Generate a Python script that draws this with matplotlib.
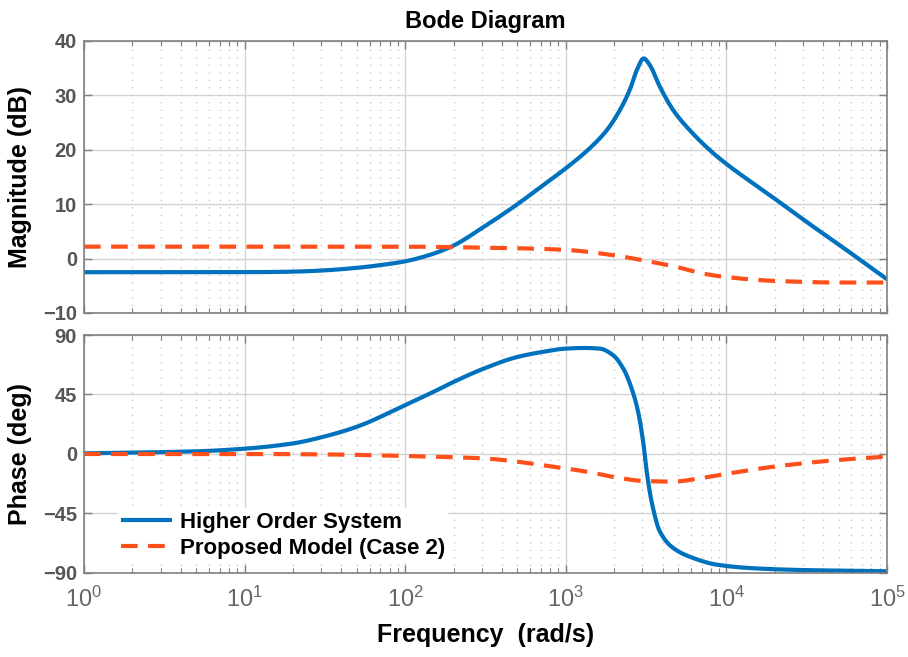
import numpy as np
import matplotlib
matplotlib.use("Agg")
from matplotlib import pyplot as plt
from matplotlib.ticker import LogLocator, NullFormatter, FixedLocator

plt.rcParams['font.family'] = ['Liberation Sans', 'DejaVu Sans']
plt.rcParams['mathtext.fontset'] = 'custom'
plt.rcParams['mathtext.rm'] = 'Liberation Sans'
plt.rcParams['mathtext.it'] = 'Liberation Sans'

# Higher order system (blue), magnitude
hos_w = [1, 5, 10, 20, 30, 50, 70, 100, 150, 200, 300, 500, 700, 1000, 1400,
         1800, 2200, 2500, 2800, 3050, 3330, 3850, 4660, 5910, 8260, 10000,
         20000, 30000, 50000, 100000]
hos_mag = [-2.5, -2.5, -2.5, -2.4, -2.2, -1.7, -1.2, -0.5, 0.9, 2.4, 5.6, 10.0,
           13.2, 16.6, 20.2, 23.6, 27.6, 31.0, 35.0, 36.8, 35.6, 31.6, 27.3,
           23.6, 19.4, 17.4, 11.0, 7.2, 2.6, -3.8]

# Higher order system (blue), phase
hosp_w = [1, 5, 10, 20, 30, 50, 100, 150, 200, 300, 500, 700, 1000, 1300,
          1630, 1970, 2280, 2570, 2820, 3030, 3210, 3420, 3850, 4660, 6210,
          8680, 15000, 30000, 100000]
hos_phase = [0.5, 2.0, 4.0, 8.0, 12.6, 20.6, 37.0, 47.0, 54.5, 64.0, 73.4,
             77.0, 79.7, 80.2, 79.7, 74.7, 64.6, 49.5, 31.9, 9.3, -15.8, -36.0,
             -58.6, -71.1, -78.7, -83.7, -86.5, -87.8, -88.7]

# Proposed model, case 2 (orange dashed)
pm_w = [1, 10, 100, 200, 300, 500, 1000, 2000, 3000, 5000, 7000, 10000,
        20000, 50000, 100000]
pm_mag = [2.2, 2.2, 2.2, 2.1, 2.0, 1.9, 1.6, 0.6, -0.3, -1.6, -2.7, -3.4,
          -4.1, -4.4, -4.4]
pmp_w = [1, 10, 30, 100, 300, 918, 1410, 2070, 3030, 4660, 6820, 10000,
         20000, 50000, 100000]
pm_phase = [0.0, 0.0, -0.3, -1.5, -3.3, -10.3, -13.8, -17.8, -20.4, -20.9,
            -18.4, -15.0, -9.5, -4.5, -2.0]

mag_ticks = [-10, 0, 10, 20, 30, 40]
phase_ticks = [-90, -45, 0, 45, 90]
freq_ticks = [1, 10, 100, 1000, 10000, 100000]
freq_labels = ['$10^{0}$', '$10^{1}$', '$10^{2}$', '$10^{3}$', '$10^{4}$', '$10^{5}$']

BLUE = '#0072BD'
ORANGE = '#FF4F1A'
TICK_GRAY = '#555555'


def pchip(x, y, n=800):
    # monotone cubic through the read points, in log frequency
    x = np.log10(np.asarray(x, float))
    y = np.asarray(y, float)
    h = np.diff(x)
    d = np.diff(y) / h
    m = np.zeros_like(y)
    for i in range(1, len(y) - 1):
        if d[i - 1] * d[i] > 0:
            w1 = 2 * h[i] + h[i - 1]
            w2 = h[i] + 2 * h[i - 1]
            m[i] = (w1 + w2) / (w1 / d[i - 1] + w2 / d[i])
    m[0] = d[0]
    m[-1] = d[-1]
    xs = np.linspace(x[0], x[-1], n)
    k = np.clip(np.searchsorted(x, xs) - 1, 0, len(h) - 1)
    t = (xs - x[k]) / h[k]
    h00 = 2 * t**3 - 3 * t**2 + 1
    h10 = t**3 - 2 * t**2 + t
    h01 = -2 * t**3 + 3 * t**2
    h11 = t**3 - t**2
    ys = h00 * y[k] + h10 * h[k] * m[k] + h01 * y[k + 1] + h11 * h[k] * m[k + 1]
    return 10 ** xs, ys


def style_axes(ax):
    ax.set_xscale('log')
    ax.set_xlim(1, 1e5)
    ax.xaxis.set_major_locator(FixedLocator(freq_ticks))
    ax.xaxis.set_minor_locator(LogLocator(base=10, subs=np.arange(2, 10)))
    ax.xaxis.set_minor_formatter(NullFormatter())
    ax.grid(True, which='major', color='#d4d4d4', lw=1.0, ls='-')
    ax.grid(True, which='minor', axis='x', color='#bdbdbd', lw=0.9, ls=(0, (1, 5)))
    ax.set_axisbelow(True)
    for s in ax.spines.values():
        s.set_color('#808080')
        s.set_linewidth(1.2)
    ax.tick_params(which='both', direction='in', top=True, right=True,
                   colors='#808080', labelcolor=TICK_GRAY)
    ax.tick_params(which='major', length=6, width=1)
    ax.tick_params(which='minor', length=3.5, width=0.8)
    ax.tick_params(axis='y', labelsize=14.5, pad=5)
    for lab in ax.get_yticklabels():
        lab.set_fontweight('bold')


fig = plt.figure(figsize=(9.08, 6.57), dpi=100)
ax1 = fig.add_axes([0.0925, 0.5236, 0.8844, 0.414])
ax2 = fig.add_axes([0.0925, 0.1279, 0.8844, 0.3622])

# magnitude
w, m = pchip(hos_w, hos_mag)
ax1.plot(w, m, color=BLUE, lw=3, solid_capstyle='butt')
w, m = pchip(pm_w, pm_mag)
ax1.plot(w, m, color=ORANGE, lw=3, ls=(0, (4, 2.5)))
ax1.set_ylim(-10, 40)
ax1.set_yticks(mag_ticks)
style_axes(ax1)
ax1.tick_params(axis='x', labelbottom=False)
ax1.set_ylabel('Magnitude (dB)', fontsize=18, fontweight='bold', labelpad=8)
ax1.set_title('Bode Diagram', fontsize=17, fontweight='bold', pad=9)

# phase
w, p = pchip(hosp_w, hos_phase)
l1, = ax2.plot(w, p, color=BLUE, lw=3, solid_capstyle='butt',
               label='Higher Order System')
w, p = pchip(pmp_w, pm_phase)
l2, = ax2.plot(w, p, color=ORANGE, lw=3, ls=(0, (4, 2.5)),
               label='Proposed Model (Case 2)')
ax2.set_ylim(-90, 90)
ax2.set_yticks(phase_ticks)
style_axes(ax2)
ax2.set_xticklabels(freq_labels)
ax2.tick_params(axis='x', labelsize=17, pad=10, labelcolor='#666666')
ax2.set_ylabel('Phase (deg)', fontsize=18, fontweight='bold', labelpad=8)
ax2.set_xlabel('Frequency  (rad/s)', fontsize=18, fontweight='bold', labelpad=8)

leg = ax2.legend(handles=[l1, l2], loc='lower left', bbox_to_anchor=(0.028, -0.003),
                 prop={'weight': 'bold', 'size': 16},
                 handlelength=2.3, handletextpad=0.35, labelspacing=0.25,
                 borderpad=0.15, fancybox=False, framealpha=1)
leg.get_frame().set_edgecolor('white')
leg.get_frame().set_linewidth(0)

fig.savefig('out.png', dpi=100)
